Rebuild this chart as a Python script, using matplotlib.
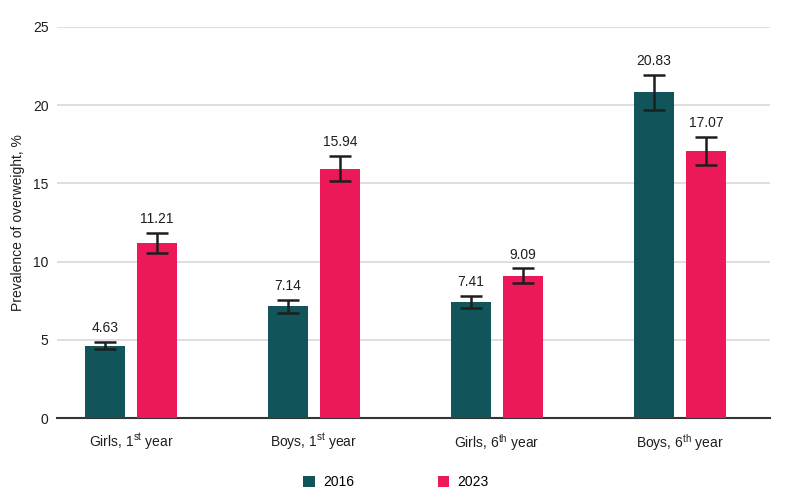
import matplotlib
matplotlib.use("Agg")
import matplotlib.pyplot as plt
import numpy as np

categories = ["Girls, 1$^{\\mathrm{st}}$ year", "Boys, 1$^{\\mathrm{st}}$ year",
              "Girls, 6$^{\\mathrm{th}}$ year", "Boys, 6$^{\\mathrm{th}}$ year"]
series_names = ["2016", "2023"]
values_2016 = [4.63, 7.14, 7.41, 20.83]
values_2023 = [11.21, 15.94, 9.09, 17.07]
err_2016 = [0.24, 0.40, 0.38, 1.12]
err_2023 = [0.64, 0.79, 0.47, 0.87]
y_ticks = [0, 5, 10, 15, 20, 25]

plt.rcParams['font.family'] = ['Liberation Sans', 'DejaVu Sans']
plt.rcParams['mathtext.fontset'] = 'custom'
plt.rcParams['mathtext.rm'] = 'Liberation Sans'
plt.rcParams['mathtext.it'] = 'Liberation Sans:italic'

c2016 = "#11545A"
c2023 = "#EC1857"
text_c = "#1e1e1e"

fig = plt.figure(figsize=(7.92, 4.96), dpi=100)
ax = fig.add_axes([57/792, 1 - 418/496, (770-57)/792, (418-27)/496])

x = np.arange(len(categories))
w = 0.2186
off = 0.142
b1 = ax.bar(x - off, values_2016, w, color=c2016, label=series_names[0], zorder=3)
b2 = ax.bar(x + off, values_2023, w, color=c2023, label=series_names[1], zorder=3)
ax.errorbar(x - off, values_2016, yerr=err_2016, fmt='none', ecolor=text_c,
            elinewidth=1.8, capsize=8, capthick=1.8, zorder=4)
ax.errorbar(x + off, values_2023, yerr=err_2023, fmt='none', ecolor=text_c,
            elinewidth=1.8, capsize=8, capthick=1.8, zorder=4)

for xs, vals, errs in [(x - off, values_2016, err_2016), (x + off, values_2023, err_2023)]:
    for xi, v, e in zip(xs, vals, errs):
        ax.annotate(f"{v:.2f}", (xi, v + e), xytext=(0, 5), textcoords='offset points',
                    ha='center', va='bottom', fontsize=10, color=text_c)

ax.set_ylim(0, 25)
ax.set_xlim(-0.404, 3.492)
ax.set_yticks(y_ticks)
ax.set_xticks(x)
ax.set_xticklabels(categories, fontsize=10, color=text_c)
ax.tick_params(axis='y', labelsize=10, labelcolor=text_c, length=0, pad=6)
ax.tick_params(axis='x', length=0, pad=10)
ax.yaxis.grid(True, color='#d9d9d9', linewidth=1.2, zorder=0)
ax.set_axisbelow(True)
for s in ['left', 'right', 'top']:
    ax.spines[s].set_visible(False)
ax.spines['bottom'].set_color('#333333')
ax.spines['bottom'].set_linewidth(1.5)
ax.set_ylabel("Prevalence of overweight, %", fontsize=10, color=text_c, labelpad=6)

fig.legend(handles=[b1, b2], labels=series_names, loc='lower center',
           bbox_to_anchor=(0.5, -0.012), ncol=2, frameon=False, fontsize=10,
           handlelength=0.85, handleheight=0.85, columnspacing=6.0, handletextpad=0.6)

fig.savefig("out.png", dpi=100)
